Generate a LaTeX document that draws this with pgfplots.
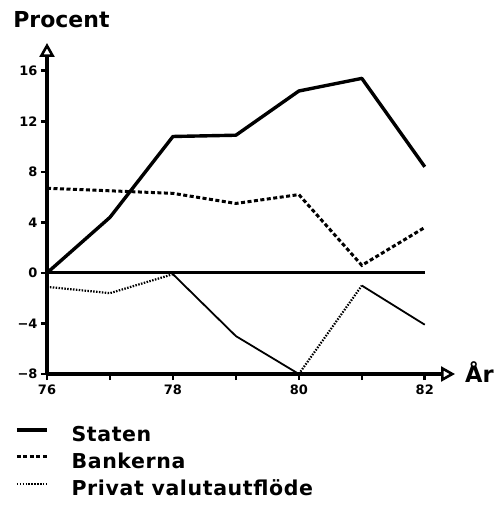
\documentclass[border=0pt]{standalone}
\usepackage{fontspec}
\setmainfont{DejaVu Sans}
\newfontfamily\lsfont[LetterSpace=3]{DejaVu Sans Bold}
\newfontfamily\pfont{DejaVu Sans Bold}
\usepackage{pgfplots}
\pgfplotsset{compat=1.18}
\usetikzlibrary{arrows.meta}
\tikzset{axarrow/.tip={Triangle[open,length=14pt,width=15pt,line width=2.6pt]}}
\begin{document}
\begin{tikzpicture}
\path[use as bounding box] (-47pt,-131pt) rectangle (454pt,374pt);
\begin{axis}[
  scale only axis, width=408pt, height=331pt,
  xmin=76, xmax=82.48, ymin=-8, ymax=18.2,
  axis lines=left,
  axis line style={line width=3.2pt, -axarrow},
  every outer x axis line/.append style={line width=3.2pt, -axarrow},
  every outer y axis line/.append style={line width=3.2pt, -axarrow},
  xtick={76,...,82}, xticklabels={76,,78,,80,,82},
  ytick={-8,-4,0,4,8,12,16}, yticklabels={−8,−4,0,4,8,12,16},
  tick align=outside, major tick length=6pt,
  tick style={line width=2.6pt, black},
  every tick/.append style={line width=2.6pt, black},
  tick label style={font=\pfont\fontsize{13}{13}\selectfont},
  yticklabel style={xshift=0pt},
  xticklabel style={yshift=-1pt},
  clip=false,
  legend style={at={(axis description cs:-0.078,-0.160)}, anchor=north west,
    draw=none, fill=none, inner sep=0pt, outer sep=0pt,
    font=\lsfont\fontsize{20.5}{20.5}\selectfont, row sep=7pt,
    nodes={inner sep=0pt, text height=15pt, text depth=5pt},
    cells={anchor=west}},
  legend image code/.code={\draw[#1] (0pt,7pt) -- (30pt,7pt); \path (53pt,0pt);},
]
% zero line
\addplot[forget plot, black, line width=3pt] coordinates {(76,0) (82,0)};
% Staten
\addplot[black, line width=3.4pt, line join=round] coordinates {
 (76,0) (77,4.4) (78,10.8) (79,10.9) (80,14.4) (81,15.4) (82,8.4)};
\addlegendentry{Staten}
% Bankerna
\addplot[black, line width=3pt, dash pattern=on 4pt off 2.5pt] coordinates {
 (76,6.7) (77,6.5) (78,6.3) (79,5.5) (80,6.2) (81,0.6) (82,3.6)};
\addlegendentry{Bankerna}
% Privat valutautflöde (dotted parts)
\addplot[black, line width=2.2pt, dash pattern=on 1.5pt off 1.4pt] coordinates {
 (76,-1.1) (77,-1.6) (78,-0.1)};
\addlegendentry{Privat valutautflöde}
\addplot[forget plot, black, line width=2.2pt, dash pattern=on 1.5pt off 1.4pt] coordinates {
 (80,-8) (81,-1.0)};
% Privat valutautflöde (thin solid parts)
\addplot[forget plot, black, line width=1.8pt] coordinates {
 (78,-0.1) (79,-5.0) (80,-8)};
\addplot[forget plot, black, line width=1.8pt] coordinates {
 (81,-1.0) (82,-4.1)};
\node[anchor=base west, inner sep=0pt, font=\pfont\fontsize{22}{22}\selectfont] at (axis description cs:-0.083,1.048) {Procent};
\node[anchor=base west, inner sep=0pt, font=\pfont\fontsize{22.5}{22.5}\selectfont] at (axis description cs:1,0) [xshift=10pt, yshift=-8pt] {År};
\end{axis}
\end{tikzpicture}
\end{document}
